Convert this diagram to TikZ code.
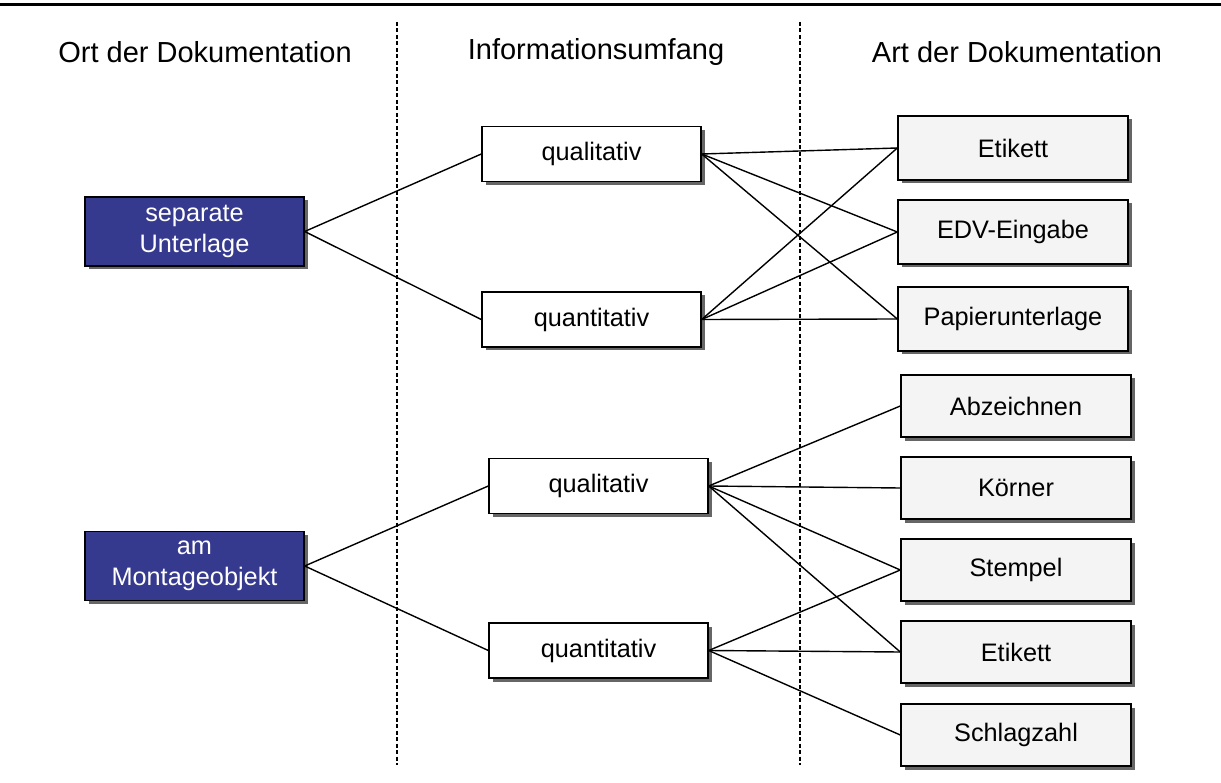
\documentclass[tikz,border=0pt]{standalone}
\usepackage{fontspec}
\setmainfont{Liberation Sans}
\usetikzlibrary{shadows}

\definecolor{ortblau}{HTML}{363A8E}
\definecolor{artgrau}{HTML}{F4F4F4}

\begin{document}
\begin{tikzpicture}[x=1pt, y=-1pt, node distance=82pt]

    % Stile
    \tikzstyle{titel} = [font=\fontsize{29}{34}\selectfont]
    \tikzstyle{box} = [rectangle, draw=black, line width=1.4pt, inner sep=0pt, text centered, font=\fontsize{25.3}{31}\selectfont, drop shadow={shadow xshift=3.5pt, shadow yshift=-3.5pt, fill=black!60, opacity=1}]
    \tikzstyle{ort} = [box, minimum width=219pt, minimum height=69pt, fill=ortblau, text=white, align=center]
    \tikzstyle{umfang} = [box, minimum width=219pt, minimum height=55pt, fill=white]
    \tikzstyle{art} = [box, minimum width=230pt, minimum height=64pt, fill=artgrau]
    \tikzstyle{linie} = [line width=1.4pt]
    \tikzstyle{trenner} = [line width=1.3pt, dash pattern=on 4pt off 2.5pt]

    \useasboundingbox (0,0) rectangle (1221,783);
    \draw [line width=2.7pt] (0,4.7) -- (1221,4.7);

    % Spalten
    \draw [trenner] (397,22) -- (397,765);
    \draw [trenner] (800,22) -- (800,765);
    \node (t-ort) at (205,52) [titel] {Ort der Dokumentation};
    \node (t-umfang) at (596,52) [titel] {Informationsumfang};
    \node (t-art) at (1017,52) [titel] {Art der Dokumentation};

    % Knoten
    \node (sep) at (194.5,231.5) [ort] {separate\\Unterlage};
    \node (mont) [ort, below of=sep, yshift=-252.5pt] {am\\Montageobjekt};

    \node (qual1) at (591.5,154) [umfang] {qualitativ};
    \node (quant1) [umfang, below of=qual1, yshift=-83.5pt] {quantitativ};
    \node (qual2) [umfang, below of=quant1, xshift=7pt, yshift=-84.5pt] {qualitativ};
    \node (quant2) [umfang, below of=qual2, yshift=-82.5pt] {quantitativ};

    \node (etik1) at (1013,148) [art] {Etikett};
    \node (edv) [art, below of=etik1, yshift=-2pt] {EDV-Eingabe};
    \node (papier) [art, below of=edv, yshift=-5pt] {Papierunterlage};

    \node (abz) at (1016,406) [art, minimum height=62pt] {Abzeichnen};
    \node (koerner) [art, minimum height=62pt, below of=abz] {Körner};
    \node (stempel) [art, minimum height=62pt, below of=koerner] {Stempel};
    \node (etik2) [art, minimum height=62pt, below of=stempel] {Etikett};
    \node (schlag) [art, minimum height=62pt, below of=etik2, yshift=-1pt] {Schlagzahl};

    % Linien
    \draw [linie] (sep.east) -- (qual1.west);
    \draw [linie] (sep.east) -- (quant1.west);
    \draw [linie] (mont.east) -- (qual2.west);
    \draw [linie] (mont.east) -- (quant2.west);
    \draw [linie] (qual1.east) -- (etik1.west);
    \draw [linie] (qual1.east) -- (edv.west);
    \draw [linie] (qual1.east) -- (papier.west);
    \draw [linie] (quant1.east) -- (etik1.west);
    \draw [linie] (quant1.east) -- (edv.west);
    \draw [linie] (quant1.east) -- (papier.west);
    \draw [linie] (qual2.east) -- (abz.west);
    \draw [linie] (qual2.east) -- (koerner.west);
    \draw [linie] (qual2.east) -- (stempel.west);
    \draw [linie] (qual2.east) -- (etik2.west);
    \draw [linie] (quant2.east) -- (stempel.west);
    \draw [linie] (quant2.east) -- (etik2.west);
    \draw [linie] (quant2.east) -- (schlag.west);

\end{tikzpicture}
\end{document}
